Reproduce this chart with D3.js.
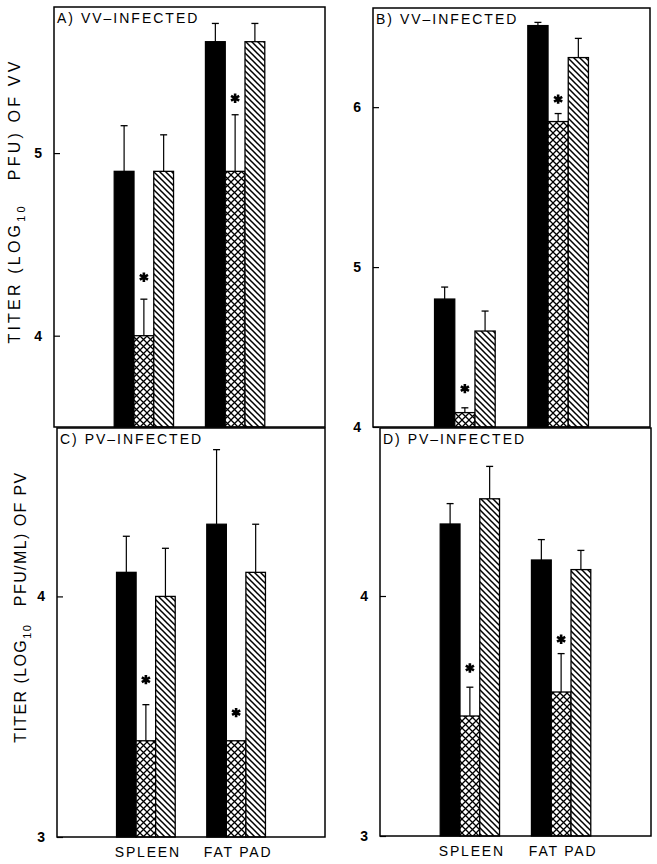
<!DOCTYPE html>
<html><head><meta charset="utf-8">
<script src="https://cdn.jsdelivr.net/npm/d3@7"></script>
<style>
body{margin:0;background:#fff}
text{font-family:"Liberation Sans",Arial,Helvetica,sans-serif;fill:#000}
</style>
</head><body>
<svg id="chart" width="657" height="864"></svg>
<script>
// ---------- DATA ----------
const categories = ["SPLEEN", "FAT PAD"];
const seriesKeys = ["solid", "crosshatch", "hatch"];
const panelTitles = ["A) VV\u2013INFECTED", "B) VV\u2013INFECTED", "C) PV\u2013INFECTED", "D) PV\u2013INFECTED"];
const yTitleVV = ["TITER (LOG", "10", "   PFU) OF VV"];
const yTitlePV = ["TITER (LOG", "10", "   PFU/ML) OF PV"];

// values[series][category]
const valuesA = [[4.90, 5.61], [4.00, 4.90], [4.90, 5.61]];
const errTopA = [[5.15, 5.71], [4.20, 5.21], [5.10, 5.71]];
const starA   = [4.32, 5.30];
const ticksA  = [4, 5];
const domainA = [3.5, 5.8];

const valuesB = [[4.80, 6.51], [4.09, 5.91], [4.60, 6.31]];
const errTopB = [[4.875, 6.53], [4.12, 5.96], [4.725, 6.43]];
const starB   = [4.24, 6.05];
const ticksB  = [4, 5, 6];
const domainB = [4, 6.62];

const valuesC = [[4.10, 4.30], [3.40, 3.40], [4.00, 4.10]];
const errTopC = [[4.25, 4.61], [3.55, 3.40], [4.20, 4.30]];
const starC   = [3.654, 3.517];
const ticksC  = [3, 4];
const domainC = [3, 4.7];

const valuesD = [[4.30, 4.15], [3.50, 3.60], [4.405, 4.11]];
const errTopD = [[4.385, 4.235], [3.62, 3.76], [4.54, 4.19]];
const starD   = [3.70, 3.82];
const ticksD  = [3, 4];
const domainD = [3, 4.7];

// ---------- LAYOUT ----------
const layout = [
  {x0: 54,  x1: 325, y0: 7,   y1: 427, ylab: yTitleVV, ylx: 20, yly: 201, ylen: 282, cats: false},
  {x0: 373, x1: 650, y0: 8,   y1: 427, ylab: null, cats: false},
  {x0: 57,  x1: 325, y0: 428, y1: 837, ylab: yTitlePV, ylx: 26, yly: 607, ylen: 270, cats: true},
  {x0: 380, x1: 651, y0: 428, y1: 836, ylab: null, cats: true}
];
const panelData = [
  {values: valuesA, err: errTopA, star: starA, ticks: ticksA, domain: domainA},
  {values: valuesB, err: errTopB, star: starB, ticks: ticksB, domain: domainB},
  {values: valuesC, err: errTopC, star: starC, ticks: ticksC, domain: domainC},
  {values: valuesD, err: errTopD, star: starD, ticks: ticksD, domain: domainD}
];

const svg = d3.select("#chart");
svg.append("rect").attr("width", 657).attr("height", 864).attr("fill", "#fff");

const defs = svg.append("defs");
const ph = defs.append("pattern").attr("id", "hatch").attr("patternUnits", "userSpaceOnUse")
  .attr("width", 6).attr("height", 6);
ph.append("rect").attr("width", 6).attr("height", 6).attr("fill", "#fff");
ph.append("path").attr("d", "M-1,-1L7,7M-1,5L1,7M5,-1L7,1").attr("stroke", "#000").attr("stroke-width", 1.5);

const pc = defs.append("pattern").attr("id", "cross").attr("patternUnits", "userSpaceOnUse")
  .attr("width", 7).attr("height", 7);
pc.append("rect").attr("width", 7).attr("height", 7).attr("fill", "#fff");
pc.append("path").attr("d", "M-1,-1L8,8M8,-1L-1,8").attr("stroke", "#000").attr("stroke-width", 1.3);

const fills = {solid: "#000", crosshatch: "url(#cross)", hatch: "url(#hatch)"};

layout.forEach((L, i) => {
  const D = panelData[i];
  const g = svg.append("g");
  const y = d3.scaleLinear().domain(D.domain).range([L.y1, L.y0]);
  const x = d3.scaleBand().domain(categories).range([L.x0, L.x1]).paddingInner(0.35).paddingOuter(0.66);
  const xs = d3.scaleBand().domain(seriesKeys).range([0, x.bandwidth()]);

  // bars
  seriesKeys.forEach((s, si) => {
    categories.forEach((c, ci) => {
      const v = D.values[si][ci];
      const bx = x(c) + xs(s);
      g.append("rect")
        .attr("x", bx).attr("y", y(v))
        .attr("width", xs.bandwidth()).attr("height", y(D.domain[0]) - y(v))
        .attr("fill", fills[s]).attr("stroke", "#000").attr("stroke-width", 1.3);
      const et = D.err[si][ci];
      if (et > v) {
        const cx = bx + xs.bandwidth() / 2;
        g.append("line").attr("x1", cx).attr("x2", cx).attr("y1", y(v)).attr("y2", y(et))
          .attr("stroke", "#000").attr("stroke-width", 1.2);
        g.append("line").attr("x1", cx - 3.5).attr("x2", cx + 3.5).attr("y1", y(et)).attr("y2", y(et))
          .attr("stroke", "#000").attr("stroke-width", 1.3);
      }
    });
  });

  // asterisks over crosshatched bars
  categories.forEach((c, ci) => {
    const cx = x(c) + xs("crosshatch") + xs.bandwidth() / 2;
    g.append("path").attr("d", d3.symbol(d3.symbolAsterisk, 62)())
      .attr("transform", `translate(${cx},${y(D.star[ci])})`)
      .attr("stroke", "#000").attr("stroke-width", 2.6).attr("fill", "none");
  });

  // frame
  g.append("rect").attr("x", L.x0).attr("y", L.y0).attr("width", L.x1 - L.x0).attr("height", L.y1 - L.y0)
    .attr("fill", "none").attr("stroke", "#000").attr("stroke-width", 1.5);

  // y axis (ticks inward)
  const ax = g.append("g").attr("transform", `translate(${L.x0},0)`)
    .call(d3.axisLeft(y).tickValues(D.ticks).tickFormat(d3.format("d")).tickSize(-6).tickPadding(12));
  ax.select(".domain").remove();
  ax.selectAll(".tick line").attr("stroke", "#000").attr("stroke-width", 1.2);
  ax.selectAll(".tick text").attr("font-size", 14).attr("font-weight", "bold")
    .attr("font-family", "Liberation Sans, Arial, sans-serif").attr("fill", "#000");

  // panel title
  g.append("text").attr("x", L.x0 + 3).attr("y", L.y0 + 16)
    .attr("font-size", 14).attr("letter-spacing", 2).text(panelTitles[i]);

  // y title
  if (L.ylab) {
    const t = g.append("text").attr("transform", `translate(${L.ylx},${L.yly}) rotate(-90)`)
      .attr("text-anchor", "middle").attr("font-size", 16).attr("letter-spacing", 0)
      .style("white-space", "pre");
    t.append("tspan").text(L.ylab[0]);
    t.append("tspan").attr("font-size", 11).attr("dy", 5).text(L.ylab[1]);
    t.append("tspan").attr("dy", -5).text(L.ylab[2]);
    const n = L.ylab.join("").length;
    const len0 = t.node().getComputedTextLength();
    const ls = Math.max(0, (L.ylen - len0) / (n - 1));
    t.attr("letter-spacing", ls);
  }

  // category labels
  if (L.cats) {
    categories.forEach(c => {
      g.append("text").attr("x", x(c) + x.bandwidth() / 2 + 2).attr("y", L.y1 + 20)
        .attr("text-anchor", "middle").attr("font-size", 14).attr("letter-spacing", 1.8).text(c);
    });
  }
});
</script>
</body></html>
